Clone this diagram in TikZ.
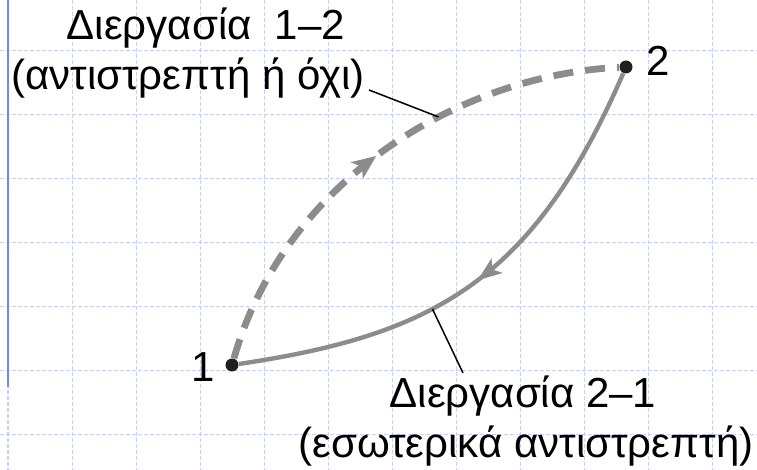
\documentclass[tikz,border=0pt]{standalone}
\usepackage{fontspec}
\setmainfont{Liberation Sans}
\usetikzlibrary{positioning,arrows.meta,decorations.markings}

\definecolor{procgray}{RGB}{140,140,140}
\definecolor{gridblue}{RGB}{200,210,248}
\definecolor{marginblue}{RGB}{110,138,240}

\begin{document}
\begin{tikzpicture}[
    x=0.5pt, y=-0.5pt,
    >=Stealth,
    every node/.style={font=\fontsize{21}{26}\selectfont, align=center, inner sep=0pt},
    state/.style={circle, fill=black!88, minimum size=6.5pt},
    gridline/.style={draw=gridblue, line width=0.5pt, dash pattern=on 2pt off 1pt},
    proc12/.style={draw=procgray, line width=3.4pt, dash pattern=on 10pt off 6pt,
        postaction={decorate}, decoration={markings,
        mark=at position 0.49 with {\arrow[procgray]{Stealth[length=12pt, width=10pt, inset=3pt]}}}},
    proc21/.style={draw=procgray, line width=2.2pt,
        postaction={decorate}, decoration={markings,
        mark=at position 0.5 with {\arrow[procgray]{Stealth[length=12pt, width=9pt, inset=3pt]}}}},
    leader/.style={draw=black, line width=0.75pt}
]
\useasboundingbox (0,0) rectangle (757,470);

% background grid
\foreach \gx in {8,72,...,712}
    \draw[gridline] (\gx,0) -- (\gx,470);
\foreach \gy in {51,115,...,435}
    \draw[gridline] (0,\gy) -- (757,\gy);
\draw[marginblue, line width=1pt] (8,0) -- (8,387);

% states
\node[state] (s1) at (232,365) {};
\node[state] (s2) at (626,67) {};
\node[anchor=base east] (n1) at (215,382) {1};
\node[anchor=base west] (n2) at (646,76) {2};

% processes
\draw[proc12] (s1) .. controls (285,180) and (460,75) .. (s2)
    coordinate[pos=0.62] (tip12);
\draw[proc21] (s2) .. controls (533,281) and (434,335) .. (s1)
    coordinate[pos=0.6] (tip21);

% labels
\node[anchor=base] (lbl12) at (206,40) {Διεργασία~~1–2};
\node[anchor=base] (lbl12note) at (188,90) {(αντιστρεπτή ή όχι)};
\node[anchor=base] (lbl21) at (523,408) {Διεργασία 2–1};
\node[anchor=base] (lbl21note) at (526,458) {(εσωτερικά αντιστρεπτή)};

\coordinate (lead12) at (369,90);
\coordinate (lead21) at (463,373);
\draw[leader] (lead12) -- (tip12);
\draw[leader] (tip21) -- (lead21);
\end{tikzpicture}
\end{document}
